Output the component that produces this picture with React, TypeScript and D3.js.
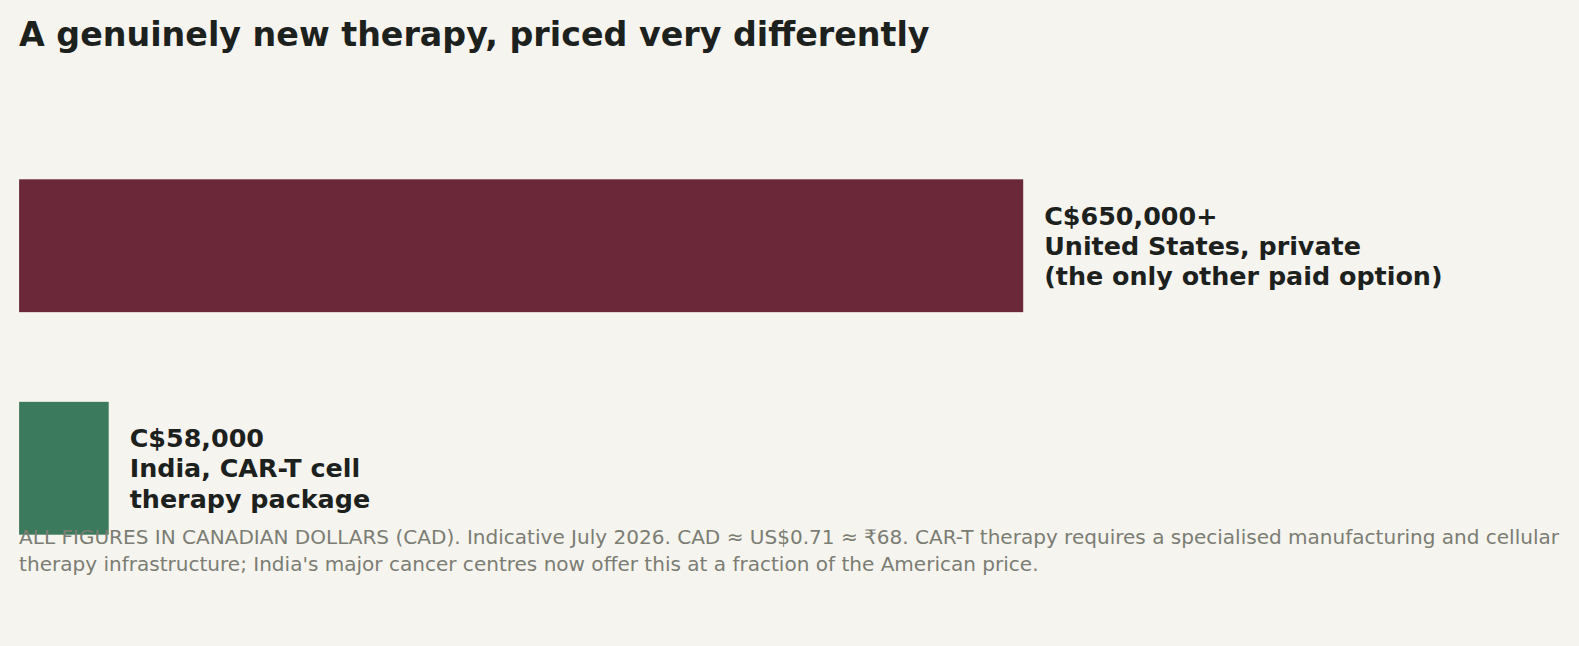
import { useEffect, useRef } from 'react';
import * as d3 from 'd3';

const categories = ['United States', 'India'];
const values = [650000, 58000];
const valueLabels = ['C$650,000+', 'C$58,000'];
const descLines = [
  ['United States, private', '(the only other paid option)'],
  ['India, CAR-T cell', 'therapy package'],
];
const barColors = ['#6b2839', '#3b7a5d'];
const title = 'A genuinely new therapy, priced very differently';
const noteLines = [
  'ALL FIGURES IN CANADIAN DOLLARS (CAD). Indicative July 2026. CAD \u2248 US$0.71 \u2248 \u20b968. CAR-T therapy requires a specialised manufacturing and cellular',
  "therapy infrastructure; India's major cancer centres now offer this at a fraction of the American price.",
];

const App = () => {
  const svgRef = useRef<SVGSVGElement | null>(null);

  useEffect(() => {
    document.body.style.margin = '0';
    document.body.style.background = '#f6f4ee';

    const width = 1579;
    const height = 646;
    const font = '"DejaVu Sans", sans-serif';

    const svg = d3.select(svgRef.current);
    svg.selectAll('*').remove();
    svg.attr('width', width).attr('height', height);

    svg.append('rect').attr('width', width).attr('height', height).attr('fill', '#f6f4ee');

    svg.append('text')
      .attr('x', 19)
      .attr('y', 45.5)
      .style('font-family', font)
      .style('font-size', '33.3px')
      .style('font-weight', 'bold')
      .style('fill', '#1c211e')
      .text(title);

    const x = d3.scaleLinear().domain([0, 650000]).range([19.1, 1023.2]);
    const y = d3.scaleBand<string>().domain(categories).range([179.3, 534.7]).paddingInner(0.403);

    svg.selectAll('rect.bar')
      .data(values)
      .enter()
      .append('rect')
      .attr('class', 'bar')
      .attr('x', x(0))
      .attr('y', (_, i) => y(categories[i])!)
      .attr('width', d => x(d) - x(0))
      .attr('height', y.bandwidth())
      .attr('fill', (_, i) => barColors[i]);

    // labels to the right of each bar
    values.forEach((v, i) => {
      const lines = [valueLabels[i], ...descLines[i]];
      const cy = y(categories[i])! + y.bandwidth() / 2;
      const t = svg.append('text')
        .attr('x', x(v) + 21)
        .attr('y', cy - 21)
        .style('font-family', font)
        .style('font-size', '25.4px')
        .style('font-weight', 'bold')
        .style('fill', '#1c211e');
      lines.forEach((line, j) => {
        t.append('tspan')
          .attr('x', x(v) + 21)
          .attr('dy', j === 0 ? 0 : 30.2)
          .text(line);
      });
    });

    // footnote
    const note = svg.append('text')
      .attr('x', 19.1)
      .attr('y', 544)
      .style('font-family', font)
      .style('font-size', '20.05px')
      .style('fill', '#7b7d74');
    noteLines.forEach((line, j) => {
      note.append('tspan')
        .attr('x', 19.1)
        .attr('dy', j === 0 ? 0 : 27)
        .text(line);
    });
  }, []);

  return <svg ref={svgRef}></svg>;
};

export default App;
